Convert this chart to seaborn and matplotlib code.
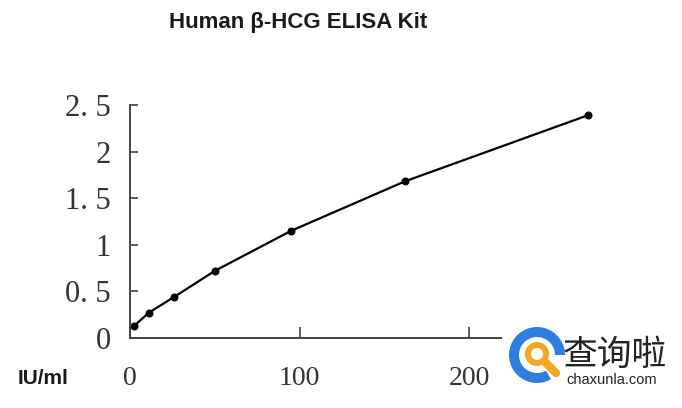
import seaborn as sns
import pandas as pd
import matplotlib.pyplot as plt
from matplotlib.patches import Wedge, Rectangle
from matplotlib.lines import Line2D

# standard curve
conc = [2.5, 11, 26, 50, 95, 162, 270]
od = [0.13, 0.27, 0.44, 0.72, 1.15, 1.68, 2.39]

y_ticks = [0, 0.5, 1, 1.5, 2, 2.5]
y_tick_labels = ["0", "0. 5", "1", "1. 5", "2", "2. 5"]
x_ticks = [0, 100, 200]
x_tick_labels = ["0", "100", "200"]

title = "Human β-HCG ELISA Kit"
x_unit = "IU/ml"

df = pd.DataFrame({"conc": conc, "od": od})

sns.set_style("white")
plt.rcParams["font.family"] = ["Liberation Sans", "DejaVu Sans"]

fig = plt.figure(figsize=(6.82, 4.08), dpi=100)
ax = fig.add_axes([0.1906, 0.1716, 0.746, 0.571])

sns.lineplot(data=df, x="conc", y="od", ax=ax, color="black", linewidth=1.6,
             marker="o", markersize=5, markeredgecolor="black", markerfacecolor="black")

ax.set_xlim(0, 300)
ax.set_ylim(0, 2.5)
ax.set_xlabel("")
ax.set_ylabel("")

ax.set_yticks(y_ticks)
ax.set_yticklabels(y_tick_labels, family="Liberation Serif", fontsize=22, color="#333333")
ax.set_xticks(x_ticks)
ax.set_xticklabels(x_tick_labels, family="Liberation Serif", fontsize=20, color="#333333")
ax.tick_params(axis="y", left=True, direction="in", length=6, width=1.2, pad=14, color="#444444")
ax.tick_params(axis="x", bottom=True, direction="in", length=8, width=1.2, pad=20, color="#444444")

sns.despine(ax=ax)
for side in ["left", "bottom"]:
    ax.spines[side].set_color("#444444")
    ax.spines[side].set_linewidth(1.4)

fig.text(0.437, 0.944, title, ha="center", va="center", fontsize=16,
         fontweight="bold", color="#1a1a1a")
fig.text(0.026, 0.073, x_unit, ha="left", va="center", fontsize=15,
         fontweight="bold", color="#1a1a1a")

# watermark in the lower right corner (inch coordinates keep the rings round)
inch = fig.dpi_scale_trans
fig.add_artist(Rectangle((5.02, 0.14), 1.8, 0.76, transform=inch,
                         facecolor="white", edgecolor="none", zorder=5))
fig.add_artist(Wedge((5.37, 0.53), 0.28, 0, 300, width=0.1, transform=inch,
                     facecolor="#2f7de1", edgecolor="none", zorder=6))
fig.add_artist(Wedge((5.37, 0.54), 0.12, 0, 360, width=0.06, transform=inch,
                     facecolor="#f5a623", edgecolor="none", zorder=7))
fig.add_artist(Line2D([5.45, 5.56], [0.46, 0.35], transform=inch, color="#f5a623",
                      linewidth=6, solid_capstyle="round", zorder=7))
fig.text(0.825, 0.13, "查询啦", ha="left", va="center", fontsize=25,
         family=["Noto Sans CJK SC", "DejaVu Sans"], color="#222222", zorder=8)
fig.text(0.83, 0.068, "chaxunla.com", ha="left", va="center", fontsize=10.5,
         family="Liberation Sans", color="#222222", zorder=8)

fig.savefig("out.png", dpi=100)
